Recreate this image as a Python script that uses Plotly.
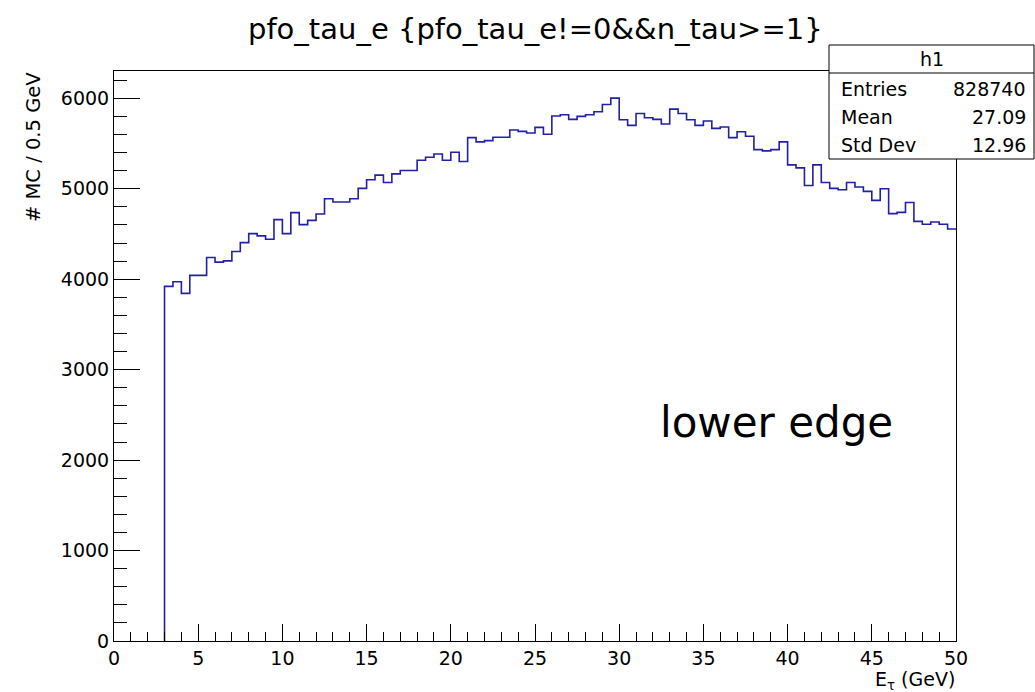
import plotly.graph_objects as go

# Histogram h1: pfo_tau_e, 0.5 GeV bins starting at 3 GeV
bin_low = 3.0
bin_width = 0.5
counts = [
    3921, 3972, 3843, 4042, 4042, 4240, 4189, 4203, 4306, 4405,
    4504, 4479, 4442, 4659, 4504, 4736, 4604, 4651, 4721, 4890,
    4853, 4853, 4890, 5004, 5100, 5151, 5070, 5165, 5202, 5202,
    5316, 5349, 5385, 5316, 5404, 5301, 5565, 5518, 5532, 5569,
    5569, 5650, 5635, 5617, 5679, 5602, 5804, 5818, 5767, 5800,
    5818, 5852, 5932, 6002, 5763, 5701, 5833, 5785, 5767, 5716,
    5881, 5833, 5763, 5701, 5749, 5668, 5683, 5565, 5631, 5580,
    5433, 5419, 5433, 5518, 5264, 5231, 5036, 5264, 5070, 5004,
    4989, 5070, 5019, 4971, 4872, 5000, 4725, 4739, 4849, 4640,
    4607, 4633, 4607, 4556,
]

stat_names = ["Entries", "Mean", "Std Dev"]
stat_values = ["828740", "27.09", "12.96"]
hist_name = "h1"
title_text = "pfo_tau_e {pfo_tau_e!=0&&n_tau>=1}"

x_range = [0, 50]
y_max = 1.05 * max(counts)

# canvas / pad geometry (pixels)
W, H = 1035, 692
ML, MR, MT, MB = 114, 79, 71, 51
PW, PH = W - ML - MR, H - MT - MB

FONT = "DejaVu Sans"


def px(xp):
    return (xp - ML) / PW


def py(yp):
    return (H - MB - yp) / PH


# step outline: rise from zero at the first edge, flat top across the last bin
edges = [bin_low + bin_width * i for i in range(len(counts) + 1)]
xs = [edges[0]] + edges
ys = [0] + counts + [counts[-1]]

fig = go.Figure()
fig.add_trace(go.Scatter(
    x=xs, y=ys, mode="lines", line=dict(shape="hv", color="#2020a8", width=1.6),
    hoverinfo="skip", showlegend=False, cliponaxis=True,
))

axis_common = dict(
    showgrid=False, zeroline=False, showline=True, mirror=True,
    linecolor="black", linewidth=1, ticks="inside", tickcolor="black",
    tickwidth=1, tickfont=dict(family=FONT, size=19, color="black"),
)

fig.update_xaxes(
    range=x_range, tick0=0, dtick=5, ticklen=17, ticklabelstandoff=0,
    minor=dict(dtick=1, ticks="inside", ticklen=9, tickcolor="black", tickwidth=1),
    **axis_common,
)
fig.update_yaxes(
    range=[0, y_max], tick0=0, dtick=1000, ticklen=26, ticklabelstandoff=0,
    minor=dict(dtick=200, ticks="inside", ticklen=13, tickcolor="black", tickwidth=1),
    **axis_common,
)

annotations = [
    dict(text=title_text, x=px(535), y=py(29), xanchor="center", yanchor="middle",
         font=dict(family=FONT, size=29, color="black")),
    dict(text="# MC / 0.5 GeV", x=px(33), y=py(70), xanchor="center", yanchor="top",
         textangle=-90, font=dict(family=FONT, size=19.5, color="black")),
    dict(text="E<sub>τ</sub> (GeV)", x=px(956), y=py(694), xanchor="right", yanchor="bottom",
         borderpad=0, font=dict(family=FONT, size=19, color="black")),
    dict(text="lower edge", x=px(776), y=py(423), xanchor="center", yanchor="middle",
         font=dict(family=FONT, size=42, color="black")),
    dict(text=hist_name, x=px(932), y=py(59), xanchor="center", yanchor="middle",
         font=dict(family=FONT, size=19, color="black")),
]
row_y = [89, 117, 145]
for name, val, yy in zip(stat_names, stat_values, row_y):
    annotations.append(dict(text=name, x=px(839), y=py(yy), xanchor="left", yanchor="middle",
                            font=dict(family=FONT, size=19, color="black")))
    annotations.append(dict(text=val, x=px(1028), y=py(yy), xanchor="right", yanchor="middle",
                            font=dict(family=FONT, size=19, color="black")))
for a in annotations:
    a.update(xref="paper", yref="paper", showarrow=False)

shapes = [
    dict(type="rect", xref="paper", yref="paper", x0=px(829), x1=px(1034),
         y0=py(159), y1=py(45), fillcolor="white", line=dict(color="black", width=1),
         layer="above"),
    dict(type="line", xref="paper", yref="paper", x0=px(829), x1=px(1034),
         y0=py(73), y1=py(73), line=dict(color="black", width=1), layer="above"),
]

fig.update_layout(
    width=W, height=H, autosize=False,
    margin=dict(l=ML, r=MR, t=MT, b=MB, pad=0),
    paper_bgcolor="white", plot_bgcolor="white",
    annotations=annotations, shapes=shapes, showlegend=False,
)

fig.write_html("out.html", config={"displayModeBar": False})
